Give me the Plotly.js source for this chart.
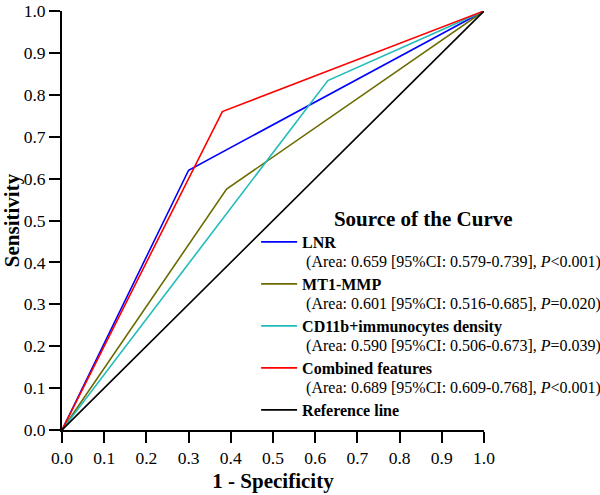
<!DOCTYPE html>
<html>
<head>
<meta charset="utf-8">
<script src="https://cdn.plot.ly/plotly-3.0.1.min.js"></script>
<style>
body { margin: 0; background: #fff; }
#myDiv { width: 600px; height: 495px; }
</style>
</head>
<body>
<div id="myDiv"></div>
<script>
// ROC curves, points (1 - specificity, sensitivity)
var lnrX = [0, 0.30, 1];
var lnrY = [0, 0.62, 1];
var mmpX = [0, 0.39, 1];
var mmpY = [0, 0.575, 1];
var cdX = [0, 0.63, 1];
var cdY = [0, 0.834, 1];
var combX = [0, 0.38, 1];
var combY = [0, 0.76, 1];
var refX = [0, 1];
var refY = [0, 1];

var tickVals = [0, 0.1, 0.2, 0.3, 0.4, 0.5, 0.6, 0.7, 0.8, 0.9, 1];
var tickText = ["0.0", "0.1", "0.2", "0.3", "0.4", "0.5", "0.6", "0.7", "0.8", "0.9", "1.0"];

var names = [
  "<b>LNR</b><br> (Area: 0.659 [95%CI: 0.579-0.739], <i>P</i>&lt;0.001)",
  "<b>MT1-MMP</b><br> (Area: 0.601 [95%CI: 0.516-0.685], <i>P</i>=0.020)",
  "<b>CD11b+immunocytes density</b><br> (Area: 0.590 [95%CI: 0.506-0.673], <i>P</i>=0.039)",
  "<b>Combined features</b><br> (Area: 0.689 [95%CI: 0.609-0.768], <i>P</i>&lt;0.001)",
  "<b>Reference line</b>"
];
var colors = ["#0000ff", "#6b6b00", "#22bbbb", "#ff0000", "#000000"];
var xs = [lnrX, mmpX, cdX, combX, refX];
var ys = [lnrY, mmpY, cdY, combY, refY];

var data = [];
for (let i = 0; i < xs.length; i++) {
  data.push({
    x: xs[i],
    y: ys[i],
    mode: 'lines',
    type: 'scatter',
    // glyphs at 16px, line spacing from the 15px legend font
    name: '<span style="font-size:16px">' + names[i].replace('<br>', '</span><br><span style="font-size:16px">') + '</span>',
    line: {color: colors[i], width: 1.6},
    hoverinfo: 'skip'
  });
}

var axisCommon = {
  range: [0, 1],
  tickmode: 'array',
  tickvals: tickVals,
  ticktext: tickText,
  ticklabeloverflow: 'allow',
  showgrid: false,
  zeroline: false,
  showline: true,
  linecolor: '#000',
  linewidth: 2,
  ticks: 'outside',
  ticklen: 11,
  tickwidth: 2,
  tickcolor: '#000',
  tickfont: {family: 'Liberation Serif', size: 17.5, color: '#000'}
};

var layout = {
  width: 600,
  height: 495,
  margin: {l: 62, r: 116, t: 11, b: 65, autoexpand: false},
  paper_bgcolor: '#fff',
  plot_bgcolor: '#fff',
  font: {family: 'Liberation Serif', color: '#000'},
  xaxis: Object.assign({}, axisCommon, {
    title: {text: '<b>1 - Specificity</b>', font: {size: 21}, standoff: 6}
  }),
  yaxis: Object.assign({}, axisCommon, {
    title: {text: '<b>Sensitivity</b>', font: {size: 21}, standoff: 6}
  }),
  showlegend: true,
  legend: {
    x: 0.46,
    y: 0.553,
    xanchor: 'left',
    yanchor: 'top',
    bgcolor: 'rgba(0,0,0,0)',
    valign: 'top',
    itemwidth: 36,
    tracegroupgap: 0,
    font: {family: 'Liberation Serif', size: 15, color: '#000'},
    title: {text: '<b>Source of the Curve</b>&nbsp;&nbsp;&nbsp;', side: 'top center', font: {size: 21}}
  }
};

Plotly.newPlot('myDiv', data, layout, {displayModeBar: false, staticPlot: true});
</script>
</body>
</html>
